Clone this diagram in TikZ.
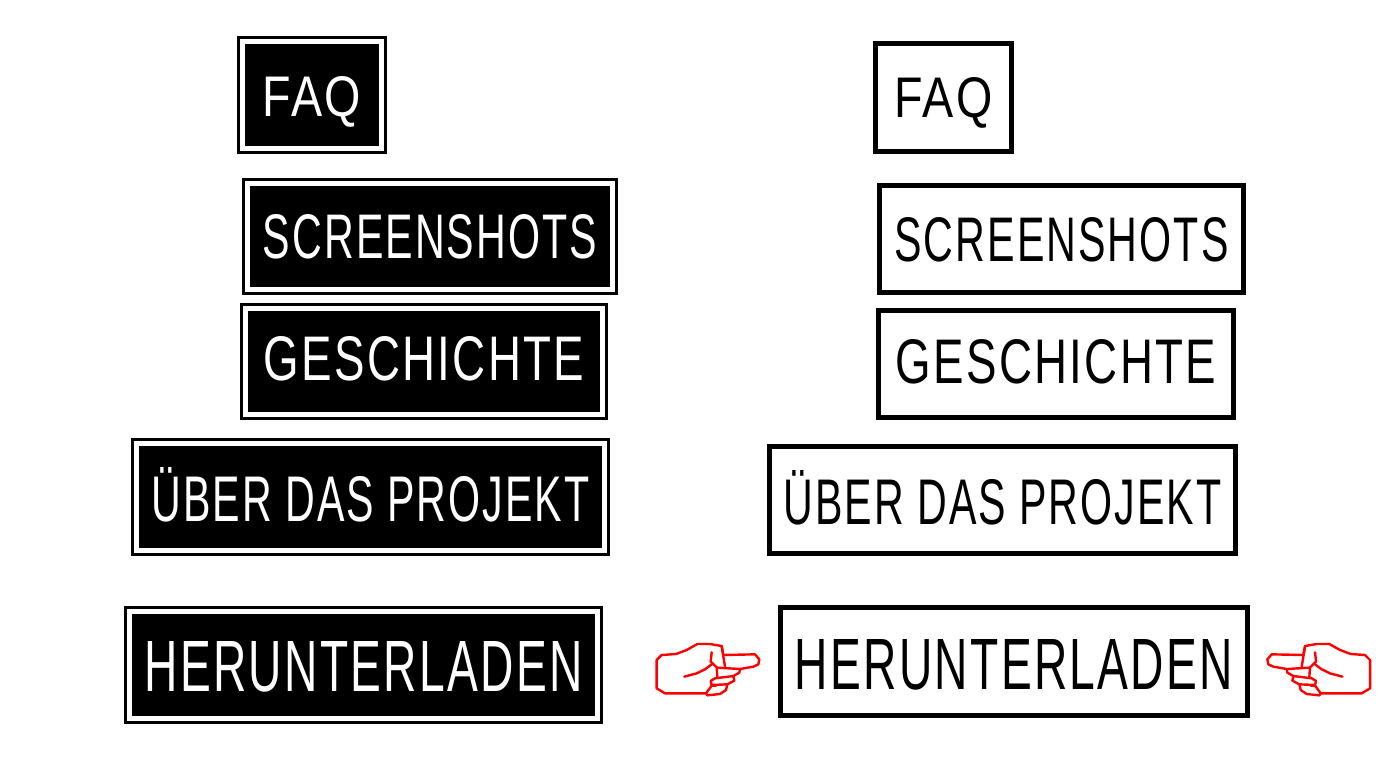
\documentclass[tikz,border=0pt]{standalone}
\usepackage{fontspec}
\setmainfont{Liberation Sans}[LetterSpace=5]
\newcommand{\scribble}[4][0]{\raisebox{#1pt}[\height][0pt]{\resizebox{#2pt}{#3pt}{#4}}}
\tikzset{
  darkbox/.style={rectangle, draw=black, fill=black, text=white, line width=3pt,
    double=white, double distance=5pt, inner sep=0pt, outer sep=0pt},
  lightbox/.style={rectangle, draw=black, fill=white, text=black, line width=5pt,
    inner sep=0pt, outer sep=0pt},
  handline/.style={draw=red, line width=2.4pt, line join=round, line cap=round},
  hand/.pic={
    \draw[handline] (50,120) -- (65,105) -- (108,102) -- (140,90) -- (172,72) -- (210,72)
      -- (245,78) -- (250,105) -- (345,103) -- (358,118) -- (355,133) -- (340,140)
      -- (300,147) -- (232,143);
    \draw[handline] (245,78) -- (255,140);
    \draw[handline] (50,120) -- (50,205) -- (75,220) -- (198,220) -- (215,197);
    \draw[handline] (215,97) -- (212,125) -- (230,142) -- (232,170);
    \draw[handline] (133,170) -- (170,160) -- (195,148) -- (215,133);
    \draw[handline] (300,147) -- (298,158) -- (280,168) -- (225,175) -- (212,183)
      -- (215,195) -- (262,193) -- (283,182) -- (280,168);
    \draw[handline] (215,197) -- (228,197);
    \draw[handline] (262,193) -- (258,210) -- (240,222) -- (202,226) -- (198,220);
  }
}
\begin{document}
\begin{tikzpicture}[x=1pt, y=-1pt]
  \useasboundingbox (0,0) rectangle (1392,768);
  % active column
  \node[darkbox, minimum width=139pt, minimum height=107pt] (faq_l) at (312,95)
    {\scribble[-1]{98}{40}{FAQ}};
  \node[darkbox, minimum width=365pt, minimum height=106pt] (shots_l) at (430,236.5)
    {\scribble{334}{44}{SCREENSHOTS}};
  \node[darkbox, minimum width=357pt, minimum height=106pt] (hist_l) at (424,361.5)
    {\scribble[3]{320}{44}{GESCHICHTE}};
  \node[darkbox, minimum width=468pt, minimum height=107pt] (about_l) at (370.5,497)
    {\scribble[3]{438}{54}{ÜBER DAS PROJEKT}};
  \node[darkbox, minimum width=468pt, minimum height=107pt] (load_l) at (363.5,665)
    {\scribble[-1]{438}{50}{HERUNTERLADEN}};
  % plain column
  \node[lightbox, minimum width=136pt, minimum height=108pt] (faq_r) at (943.5,97.5)
    {\scribble{98}{40}{FAQ}};
  \node[lightbox, minimum width=364pt, minimum height=107pt] (shots_r) at (1061.5,239)
    {\scribble{334}{44}{SCREENSHOTS}};
  \node[lightbox, minimum width=355pt, minimum height=107pt] (hist_r) at (1056,364)
    {\scribble[2.5]{320}{44}{GESCHICHTE}};
  \node[lightbox, minimum width=466pt, minimum height=107pt] (about_r) at (1002.5,500)
    {\scribble[2.5]{438}{54}{ÜBER DAS PROJEKT}};
  \node[lightbox, minimum width=467pt, minimum height=108pt] (load_r) at (1014,661.5)
    {\scribble[-3]{438}{50}{HERUNTERLADEN}};
  % pointers
  \pic[xscale=1/3, yscale=1/3] at (640,620) {hand};
  \pic[xscale=-1/3, yscale=1/3] at (1386.7,620) {hand};
\end{tikzpicture}
\end{document}
